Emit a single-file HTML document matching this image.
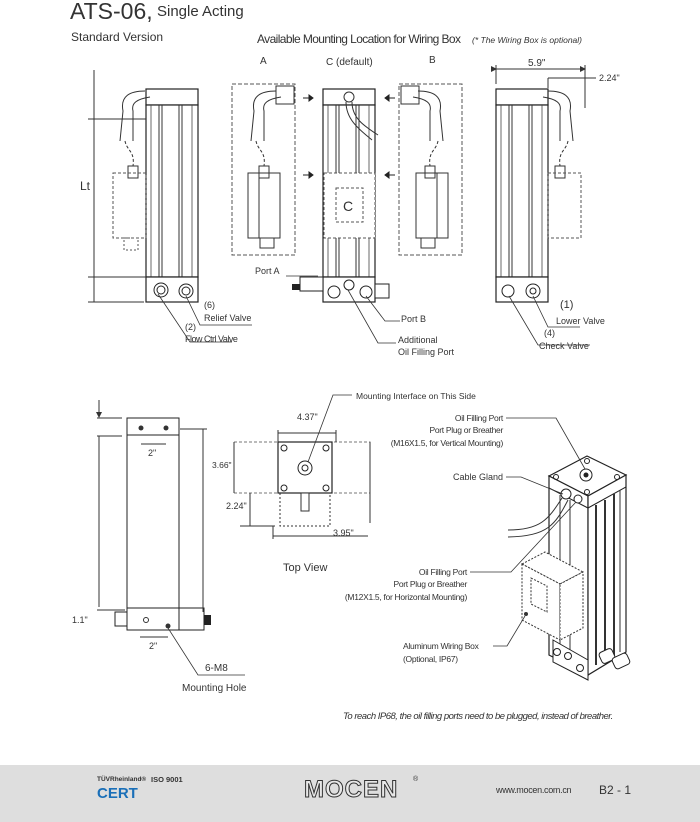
<!DOCTYPE html>
<html><head><meta charset="utf-8"><style>
html,body{margin:0;padding:0;background:#fff}
svg{display:block}
text{font-family:"Liberation Sans",sans-serif;fill:#333}
</style></head><body>
<svg width="700" height="822" viewBox="0 0 700 822" xmlns="http://www.w3.org/2000/svg">
<defs>
<marker id="ar" markerWidth="6" markerHeight="6" refX="5" refY="3" orient="auto"><path d="M0,0L6,3L0,6z" fill="#333"/></marker>
<g id="cyl">
 <rect x="0" y="0" width="52" height="16" fill="#fff" stroke="#222" stroke-width="1.2"/>
 <rect x="0" y="16" width="52" height="172" fill="#fff" stroke="#222" stroke-width="1.2"/>
 <line x1="5" y1="16" x2="5" y2="188" stroke="#444" stroke-width="0.8"/>
 <line x1="13" y1="16" x2="13" y2="188" stroke="#333"/><line x1="16" y1="16" x2="16" y2="188" stroke="#333"/>
 <line x1="33" y1="16" x2="33" y2="188" stroke="#333"/><line x1="36" y1="16" x2="36" y2="188" stroke="#333"/>
 <line x1="46" y1="16" x2="46" y2="188" stroke="#444" stroke-width="0.8"/>
 <rect x="0" y="188" width="52" height="25" fill="#fff" stroke="#222" stroke-width="1.2"/>
</g>
<g id="cable" fill="none" stroke="#333">
 <path d="M0,0 C-15,0 -25,5 -22,20 L-25,50 M5,6 C-8,8 -14,12 -12,20 L-12,50"/>
 <path d="M-20,50 C-18,60 -10,60 -12,75" stroke-dasharray="3,2"/>
 <rect x="-17" y="75" width="10" height="12" stroke="#333"/>
</g>
</defs>

<!-- Titles -->
<text x="70" y="19" font-size="23">ATS-06,</text>
<text x="157" y="16" font-size="15">Single Acting</text>
<text x="71" y="41" font-size="12">Standard Version</text>
<text x="257" y="43" font-size="12" letter-spacing="-0.6">Available Mounting Location for Wiring Box</text>
<text x="472" y="43" font-size="8.5" font-style="italic">(* The Wiring Box is optional)</text>
<text x="260" y="64" font-size="10">A</text>
<text x="326" y="65" font-size="10">C (default)</text>
<text x="429" y="63" font-size="10">B</text>

<!-- Left view -->
<use href="#cyl" x="146" y="89"/>
<g transform="translate(145,91)"><use href="#cable"/></g>
<rect x="113" y="173" width="33" height="65" fill="none" stroke="#555" stroke-dasharray="3,2"/>
<rect x="124" y="238" width="14" height="12" fill="none" stroke="#555" stroke-dasharray="2,2"/>
<circle cx="161" cy="290" r="7" fill="none" stroke="#222"/><circle cx="161" cy="290" r="4" fill="none" stroke="#222"/>
<circle cx="186" cy="291" r="7" fill="none" stroke="#222"/><circle cx="186" cy="291" r="4" fill="#fff" stroke="#222"/>
<line x1="94" y1="98" x2="94" y2="302" stroke="#333"/>
<line x1="88" y1="119" x2="146" y2="119" stroke="#333"/>
<line x1="88" y1="277" x2="146" y2="277" stroke="#333"/>
<line x1="88" y1="302" x2="144" y2="302" stroke="#333"/>
<line x1="94" y1="70" x2="94" y2="119" stroke="#333"/>
<text x="80" y="190" font-size="12">Lt</text>
<path d="M158,294 L190,342 L232,342" fill="none" stroke="#333" stroke-width="0.8"/>
<path d="M186,296 L200,325 L252,325" fill="none" stroke="#333" stroke-width="0.8"/>
<text x="204" y="308" font-size="9">(6)</text><text x="204" y="321" font-size="9">Relief Valve</text>
<text x="185" y="330" font-size="9">(2)</text><text x="185" y="342" font-size="9" letter-spacing="-0.5">Flow Ctrl Valve</text>

<!-- A -->
<rect x="232" y="84" width="63" height="171" fill="none" stroke="#555" stroke-dasharray="4,2"/>
<rect x="276" y="86" width="18" height="18" fill="#fff" stroke="#333"/>
<g transform="translate(276,91)"><use href="#cable"/></g>
<rect x="248" y="173" width="32" height="65" fill="none" stroke="#333"/>
<line x1="259" y1="173" x2="259" y2="238" stroke="#333"/>
<rect x="260" y="238" width="14" height="10" fill="none" stroke="#333"/>
<path d="M303,98 h6 v-3 l4,3 -4,3 v-3" fill="#222" stroke="#222"/>
<path d="M303,175 h6 v-3 l4,3 -4,3 v-3" fill="#222" stroke="#222"/>
<!-- C -->
<use href="#cyl" x="323" y="89"/>
<circle cx="349" cy="97" r="5" fill="none" stroke="#333"/>
<path d="M346,102 C346,120 360,130 372,140 M352,102 C352,118 364,126 378,135" fill="none" stroke="#333"/>
<rect x="324" y="173" width="51" height="65" fill="#fff" stroke="#555" stroke-dasharray="3,2"/>
<rect x="336" y="188" width="27" height="34" fill="none" stroke="#555" stroke-dasharray="3,2"/>
<text x="343" y="211" font-size="14">C</text>
<rect x="300" y="277" width="23" height="14" fill="#fff" stroke="#222"/>
<rect x="292" y="284" width="8" height="6" fill="#222"/>
<circle cx="334" cy="292" r="6" fill="none" stroke="#222"/><circle cx="349" cy="285" r="5" fill="none" stroke="#222"/>
<circle cx="366" cy="292" r="6" fill="none" stroke="#222"/>
<rect x="375" y="284" width="14" height="14" fill="#fff" stroke="#222"/>
<text x="255" y="274" font-size="9">Port A</text>
<line x1="286" y1="276" x2="318" y2="276" stroke="#333" stroke-width="0.8"/>
<path d="M366,296 L385,321 L400,321" fill="none" stroke="#333" stroke-width="0.8"/>
<path d="M348,290 L378,343 L396,343" fill="none" stroke="#333" stroke-width="0.8"/>
<text x="401" y="322" font-size="9">Port B</text>
<text x="398" y="343" font-size="9">Additional</text><text x="398" y="355" font-size="9">Oil Filling Port</text>
<!-- B -->
<rect x="399" y="84" width="63" height="171" fill="none" stroke="#555" stroke-dasharray="4,2"/>
<rect x="401" y="86" width="18" height="18" fill="#fff" stroke="#333"/>
<g transform="translate(418,91) scale(-1,1)"><use href="#cable"/></g>
<rect x="416" y="173" width="32" height="65" fill="none" stroke="#333"/>
<line x1="437" y1="173" x2="437" y2="238" stroke="#333"/>
<rect x="421" y="238" width="14" height="10" fill="none" stroke="#333"/>
<path d="M395,98 h-6 v-3 l-4,3 4,3 v-3" fill="#222" stroke="#222"/>
<path d="M395,175 h-6 v-3 l-4,3 4,3 v-3" fill="#222" stroke="#222"/>

<!-- Right view -->
<use href="#cyl" x="496" y="89"/>
<g transform="translate(548,91) scale(-1,1)"><use href="#cable"/></g>
<rect x="548" y="173" width="33" height="65" fill="none" stroke="#555" stroke-dasharray="3,2"/>
<circle cx="508" cy="291" r="6" fill="none" stroke="#222"/>
<circle cx="533" cy="291" r="7" fill="none" stroke="#222"/><circle cx="533" cy="291" r="3" fill="none" stroke="#222"/>
<line x1="496" y1="65" x2="496" y2="84" stroke="#333"/>
<line x1="585" y1="65" x2="585" y2="108" stroke="#333"/>
<line x1="496" y1="69" x2="585" y2="69" stroke="#333" marker-end="url(#ar)" marker-start="url(#ar)"/>
<line x1="548" y1="78" x2="548" y2="88" stroke="#333"/>
<line x1="548" y1="78" x2="596" y2="78" stroke="#333"/>
<text x="528" y="66" font-size="10">5.9"</text>
<text x="599" y="81" font-size="9">2.24"</text>
<path d="M509,296 L538,345 L590,345" fill="none" stroke="#333" stroke-width="0.8"/>
<path d="M533,296 L548,327 L580,327" fill="none" stroke="#333" stroke-width="0.8"/>
<text x="560" y="308" font-size="11">(1)</text>
<text x="556" y="324" font-size="9">Lower Valve</text>
<text x="544" y="336" font-size="9">(4)</text>
<text x="539" y="349" font-size="9">Check Valve</text>

<!-- Bottom left view -->
<rect x="127" y="418" width="52" height="17" fill="#fff" stroke="#222"/>
<circle cx="141" cy="428" r="2.5" fill="#333"/><circle cx="166" cy="428" r="2.5" fill="#333"/>
<rect x="127" y="435" width="52" height="173" fill="#fff" stroke="#222"/>
<rect x="127" y="608" width="52" height="22" fill="#fff" stroke="#222"/>
<rect x="179" y="608" width="25" height="22" fill="#fff" stroke="#222"/>
<rect x="115" y="612" width="12" height="14" fill="#fff" stroke="#222"/>
<rect x="204" y="615" width="7" height="10" fill="#222"/>
<circle cx="146" cy="620" r="2.5" fill="none" stroke="#333"/><circle cx="168" cy="626" r="2.5" fill="#333"/>
<line x1="99" y1="400" x2="99" y2="417" stroke="#333" marker-end="url(#ar)"/>
<line x1="97" y1="418" x2="122" y2="418" stroke="#333"/>
<line x1="97" y1="436" x2="122" y2="436" stroke="#333"/>
<line x1="99" y1="436" x2="99" y2="607" stroke="#333"/>
<line x1="97" y1="610" x2="125" y2="610" stroke="#333"/>
<line x1="203" y1="429" x2="203" y2="612" stroke="#333"/>
<line x1="180" y1="429" x2="207" y2="429" stroke="#333"/>
<line x1="141" y1="444" x2="166" y2="444" stroke="#333"/>
<text x="148" y="456" font-size="9">2"</text>
<line x1="140" y1="637" x2="168" y2="637" stroke="#333"/>
<text x="149" y="649" font-size="9">2"</text>
<text x="72" y="623" font-size="9">1.1"</text>
<path d="M168,628 L198,675 L245,675" fill="none" stroke="#333" stroke-width="0.8"/>
<text x="205" y="671" font-size="10">6-M8</text>
<text x="182" y="691" font-size="10">Mounting Hole</text>

<!-- Top view -->
<rect x="234" y="442" width="136" height="51" fill="none" stroke="#777" stroke-dasharray="3,2"/>
<rect x="280" y="493" width="50" height="33" fill="none" stroke="#333" stroke-dasharray="2,2"/>
<rect x="278" y="442" width="54" height="51" fill="#fff" stroke="#222" stroke-width="1.2"/>
<circle cx="284" cy="448" r="3" fill="none" stroke="#222"/><circle cx="326" cy="448" r="3" fill="none" stroke="#222"/>
<circle cx="284" cy="488" r="3" fill="none" stroke="#222"/><circle cx="326" cy="488" r="3" fill="none" stroke="#222"/>
<circle cx="305" cy="468" r="7" fill="none" stroke="#222"/><circle cx="305" cy="468" r="3" fill="none" stroke="#222"/>
<rect x="301" y="493" width="8" height="18" fill="#fff" stroke="#333"/>
<line x1="278" y1="430" x2="278" y2="442" stroke="#333"/><line x1="336" y1="430" x2="336" y2="442" stroke="#333"/>
<line x1="278" y1="433" x2="336" y2="433" stroke="#333"/>
<text x="297" y="420" font-size="9">4.37"</text>
<path d="M308,462 L333,395 L352,395" fill="none" stroke="#333" stroke-width="0.8"/>
<text x="356" y="399" font-size="8.5">Mounting Interface on This Side</text>
<line x1="234" y1="442" x2="234" y2="493" stroke="#333"/>
<text x="212" y="468" font-size="8.5">3.66"</text>
<line x1="370" y1="442" x2="370" y2="523" stroke="#333"/>
<line x1="250" y1="493" x2="250" y2="526" stroke="#333"/>
<line x1="240" y1="526" x2="275" y2="526" stroke="#333"/>
<text x="226" y="509" font-size="9">2.24"</text>
<line x1="273" y1="526" x2="273" y2="539" stroke="#333"/>
<line x1="273" y1="536" x2="368" y2="536" stroke="#333"/>
<text x="333" y="536" font-size="9">3.95"</text>
<text x="283" y="571" font-size="11">Top View</text>

<!-- 3D view -->
<path d="M549,476 L587,456 L626,475 L588,496 Z" fill="#fff" stroke="#222" stroke-width="1.2"/>
<path d="M549,476 L588,496 L588,675 L549,655 Z" fill="#fff" stroke="#222" stroke-width="1.2"/>
<path d="M588,496 L626,475 L626,652 L588,675 Z" fill="#fff" stroke="#222" stroke-width="1.2"/>
<path d="M549,476 v12 l39,20 l38,-21 v-12" fill="none" stroke="#222"/>
<line x1="596" y1="505" x2="596" y2="665" stroke="#333" stroke-width="2"/>
<line x1="605" y1="500" x2="605" y2="660" stroke="#333" stroke-width="2"/>
<line x1="614" y1="494" x2="614" y2="655" stroke="#333" stroke-width="2"/>
<line x1="620" y1="490" x2="620" y2="652" stroke="#333"/>
<line x1="560" y1="495" x2="560" y2="655" stroke="#333"/>
<line x1="570" y1="500" x2="570" y2="660" stroke="#333"/>
<circle cx="586" cy="475" r="6" fill="none" stroke="#222"/><circle cx="586" cy="475" r="2.5" fill="#222"/>
<circle cx="556" cy="477" r="2.5" fill="none" stroke="#222"/><circle cx="617" cy="477" r="2.5" fill="none" stroke="#222"/>
<circle cx="587" cy="461" r="2.5" fill="none" stroke="#222"/><circle cx="587" cy="492" r="2.5" fill="none" stroke="#222"/>
<circle cx="566" cy="494" r="5" fill="#fff" stroke="#222"/><circle cx="578" cy="499" r="4" fill="#fff" stroke="#222"/>
<path d="M562,498 C548,520 540,530 508,530 M568,500 C555,525 548,536 508,537" fill="none" stroke="#333"/>
<path d="M522,564 L545,552 L583,572 L560,584 Z" fill="#fff" stroke="#333" stroke-dasharray="2,1.5"/>
<path d="M522,564 L560,584 L560,640 L522,620 Z" fill="#fff" stroke="#333" stroke-dasharray="2,1.5"/>
<path d="M560,584 L583,572 L583,628 L560,640 Z" fill="#fff" stroke="#333" stroke-dasharray="2,1.5"/>
<path d="M531,578 L547,586 L547,612 L531,604 Z" fill="none" stroke="#333" stroke-dasharray="2,1.5"/>
<circle cx="526" cy="614" r="2" fill="#333"/>
<path d="M553,640 L588,660 L588,680 L553,662 Z" fill="#fff" stroke="#222"/>
<circle cx="557" cy="652" r="3.5" fill="none" stroke="#222"/><circle cx="568" cy="656" r="3.5" fill="none" stroke="#222"/>
<circle cx="580" cy="668" r="3.5" fill="none" stroke="#222"/>
<rect x="600" y="650" width="14" height="12" rx="3" fill="#fff" stroke="#222" transform="rotate(-25 607 656)"/>
<rect x="613" y="655" width="16" height="12" rx="3" fill="#fff" stroke="#222" transform="rotate(-25 621 661)"/>
<!-- 3D labels -->
<text x="503" y="421" font-size="8.5" text-anchor="end" letter-spacing="-0.3">Oil Filling Port</text>
<text x="503" y="433" font-size="8.5" text-anchor="end" letter-spacing="-0.3">Port Plug or Breather</text>
<text x="503" y="446" font-size="8.5" text-anchor="end" letter-spacing="-0.3">(M16X1.5, for Vertical Mounting)</text>
<path d="M506,418 L556,418 L585,469" fill="none" stroke="#333" stroke-width="0.8"/>
<text x="503" y="480" font-size="9" text-anchor="end">Cable Gland</text>
<path d="M506,477 L521,477 L563,494" fill="none" stroke="#333" stroke-width="0.8"/>
<text x="467" y="575" font-size="8.5" text-anchor="end" letter-spacing="-0.3">Oil Filling Port</text>
<text x="467" y="587" font-size="8.5" text-anchor="end" letter-spacing="-0.3">Port Plug or Breather</text>
<text x="467" y="600" font-size="8.5" text-anchor="end" letter-spacing="-0.3">(M12X1.5, for Horizontal Mounting)</text>
<path d="M470,572 L511,572 L576,502" fill="none" stroke="#333" stroke-width="0.8"/>
<text x="403" y="649" font-size="8.5" letter-spacing="-0.3">Aluminum Wiring Box</text>
<text x="403" y="662" font-size="8.5" letter-spacing="-0.3">(Optional, IP67)</text>
<path d="M493,646 L507,646 L525,616" fill="none" stroke="#333" stroke-width="0.8"/>

<text x="343" y="719" font-size="9.5" font-style="italic" letter-spacing="-0.5">To reach IP68, the oil filling ports need to be plugged, instead of breather.</text>

<!-- Footer -->
<rect x="0" y="765" width="700" height="57" fill="#dedede"/>
<text x="97" y="781" font-size="6.5" font-weight="bold" fill="#333">TÜVRheinland®</text>
<text x="151" y="782" font-size="7.5" font-weight="bold" fill="#333">ISO 9001</text>
<text x="97" y="798" font-size="15" font-weight="bold" style="fill:#1a6fb8">CERT</text>
<text x="304" y="797" font-size="24" font-weight="bold" letter-spacing="1" style="fill:#e8e8e8;stroke:#333;stroke-width:1">MOCEN</text>
<text x="413" y="781" font-size="7">®</text>
<text x="496" y="793" font-size="9" letter-spacing="-0.3">www.mocen.com.cn</text>
<text x="599" y="794" font-size="12">B2 - 1</text>
</svg>
</body></html>
